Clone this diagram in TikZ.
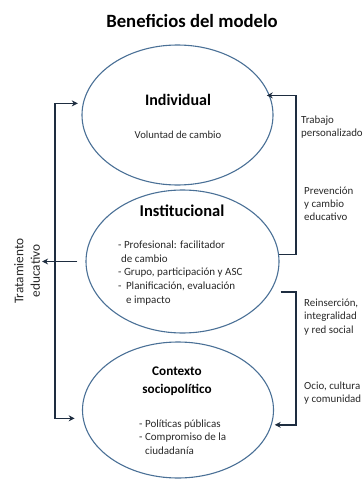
\documentclass[tikz,border=0pt]{standalone}
\usepackage{fontspec}
\setmainfont{Carlito}
\usepackage{tikz}
\usetikzlibrary{shapes.geometric, arrows.meta, positioning, calc}
\definecolor{elipseazul}{RGB}{74,112,150}
\definecolor{flechaazul}{RGB}{30,45,64}
\definecolor{textogris}{RGB}{40,40,40}
\tikzset{elipse/.style={ellipse, draw=elipseazul, line width=1.1pt, inner sep=0pt},
         flecha/.style={draw=flechaazul, line width=1.4pt, -{Stealth[length=6pt,width=6pt]}},
         titulo/.style={font=\fontsize{16}{18}\selectfont\bfseries, text=black},
         lista/.style={font=\fontsize{11}{13.8}\selectfont, text=textogris, align=left, inner sep=0pt},
         etiqueta/.style={font=\fontsize{10.9}{13}\selectfont, text=textogris, align=left, inner sep=0pt, anchor=west}}

\begin{document}
\begin{tikzpicture}[x=1pt, y=-1pt]
                 \useasboundingbox (0,0) rectangle (363,479);

                 \node[font=\fontsize{18.7}{22}\selectfont\bfseries] (tit) at (192,21) {Beneficios del modelo};

                 % las tres elipses
                 \node[elipse, minimum width=191pt, minimum height=140pt] (ind) at (177.5,115) {};
                 \node[elipse, minimum width=193pt, minimum height=143pt] (inst) at (182.5,261.5) {};
                 \node[elipse, minimum width=191pt, minimum height=136pt] (ctx) at (178,410) {};

                 \node[titulo] (indt) at (178,100) {Individual};
                 \node[lista, font=\fontsize{10.7}{12}\selectfont] (indl) at (178,135) {Voluntad de cambio};

                 \node[titulo, font=\fontsize{16.5}{18}\selectfont\bfseries] (instt) at (182,211) {Institucional};
                 \node[lista, anchor=north west] (instl) at (118,240.5)
                    {- Profesional: facilitador\\
                     \hspace{3pt}de cambio\\
                     - Grupo, participación y ASC\\
                     - \hspace{2pt}Planificación, evaluación\\
                     \hspace{8pt}e impacto};

                 \node[titulo, align=center, font=\fontsize{13.2}{18}\selectfont\bfseries] (ctxt) at (177,381) {Contexto\\sociopolítico};
                 \node[lista, anchor=north west, font=\fontsize{11}{13.5}\selectfont] (ctxl) at (139,419.5)
                    {- Políticas públicas\\
                     - Compromiso de la\\
                     \hspace{6pt}ciudadanía};

                 % etiquetas de la derecha
                 \node[etiqueta] (trab) at (301,127) {Trabajo\\personalizado};
                 \node[etiqueta] (prev) at (304,204) {Prevención\\y cambio\\educativo};
                 \node[etiqueta, font=\fontsize{10.9}{13.5}\selectfont] (rein) at (304,317) {Reinserción,\\integralidad\\y red social};
                 \node[etiqueta] (ocio) at (304,393) {Ocio, cultura\\y comunidad};

                 \node[rotate=90, align=center, font=\fontsize{13.3}{16.5}\selectfont, text=textogris, inner sep=2pt] (trat) at (27,271) {Tratamiento\\educativo};

                 % corchete izquierdo
                 \coordinate (izq) at (55,260);
                 \draw[flecha, {Stealth[length=6pt,width=6pt]}-{Stealth[length=6pt,width=6pt]}, shorten <=5pt, shorten >=8pt] (ind.173) -| (izq) |- (ctx.185);
                 \draw[flecha, shorten <=8pt] (inst.west) -- (inst.west -| trat.south);

                 % corchetes derechos
                 \coordinate (der1) at (296,170);
                 \coordinate (der2) at (296,360);
                 \draw[flecha, shorten >=-3pt] (inst.4) -| (der1) |- (ind.12);
                 \draw[flecha, shorten <=10pt, shorten >=3pt] (inst.341) -| (der2) |- (ctx.351);

\end{tikzpicture}
\end{document}
